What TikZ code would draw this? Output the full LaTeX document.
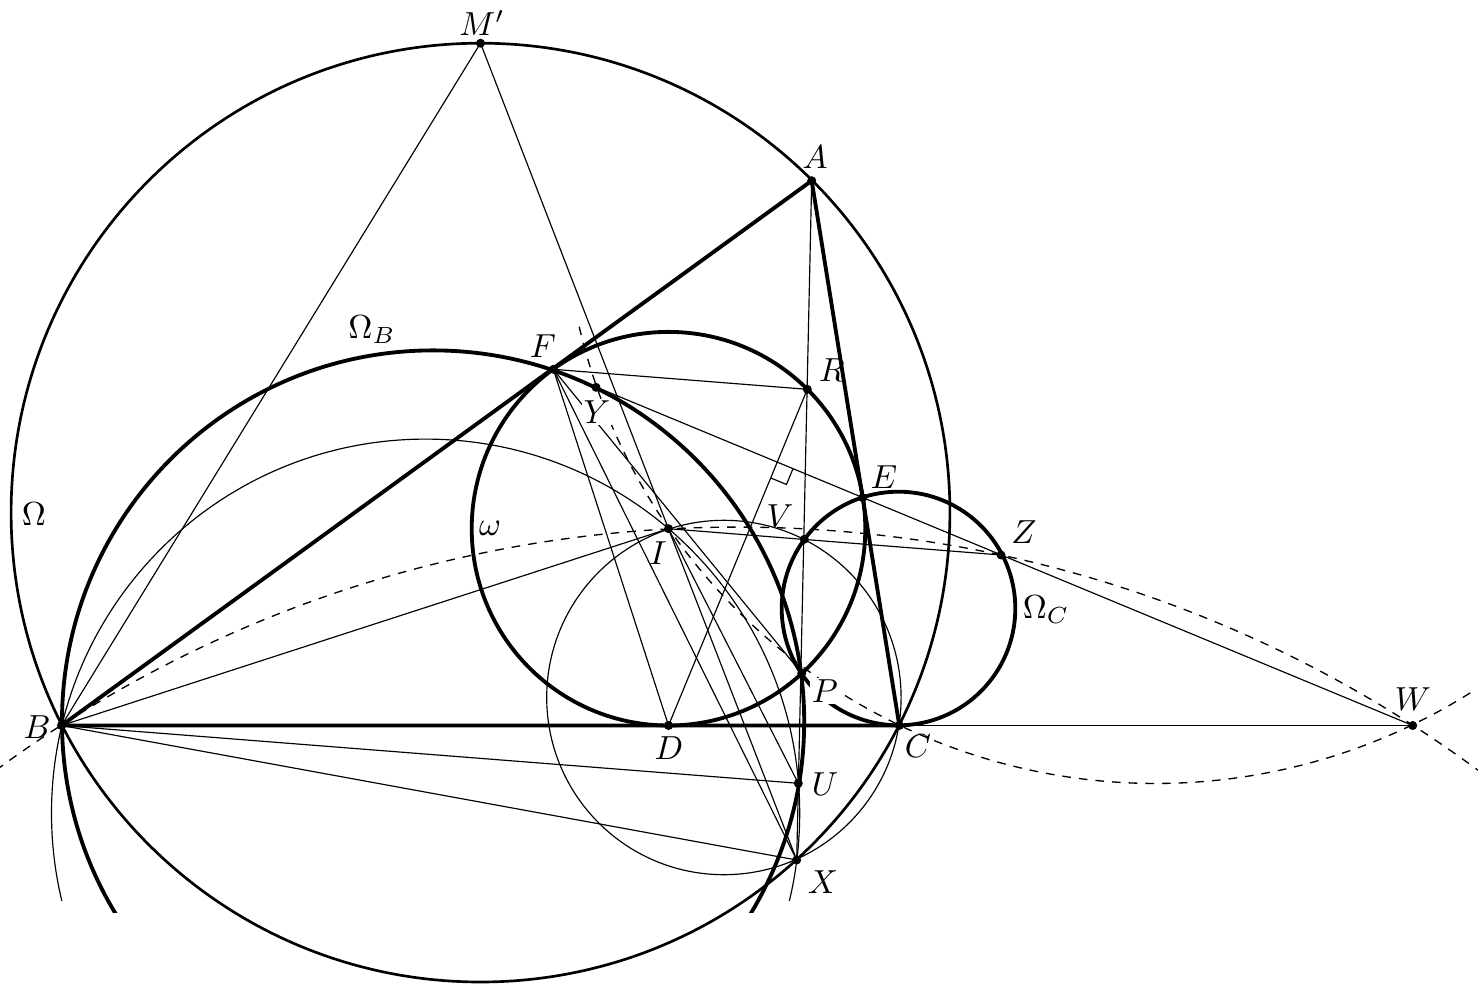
\documentclass[tikz,border=0pt]{standalone}
\usetikzlibrary{calc}
\begin{document}
\begin{tikzpicture}[x=0.3pt,y=-0.3pt,
  thinl/.style={line width=0.35pt},
  medl/.style={line width=0.8pt},
  thickl/.style={line width=1.15pt},
  dashl/.style={line width=0.4pt,dash pattern=on 2.6pt off 2.4pt},
  lbl/.style={inner sep=0.6pt},
  lblw/.style={fill=white,inner sep=0.6pt},
  dotp/.style={fill=black}]
\useasboundingbox (0,0) rectangle (1478,992);
\clip (0,0) rectangle (1478,992);
% points
\coordinate (A) at (811.7,180.7);
\coordinate (B) at (61.5,725.5);
\coordinate (C) at (899.3,725.5);
\coordinate (D) at (668.5,725.5);
\coordinate (E) at (862.7,497.7);
\coordinate (F) at (553.3,369.3);
\coordinate (I) at (668.5,528.7);
\coordinate (Mp) at (480.5,43.2);
\coordinate (P) at (801.7,673.3);
\coordinate (R) at (807.3,389.3);
\coordinate (U) at (798.3,783.3);
\coordinate (V) at (804.3,539.3);
\coordinate (W) at (1412.7,725.5);
\coordinate (X) at (796.7,860);
\coordinate (Y) at (596,387.3);
\coordinate (Z) at (1001,555);
% circle centres
\coordinate (O) at (480.5,512.6);
\coordinate (Ob) at (433.1,721.5);
\coordinate (Oc) at (898.5,608.5);
\coordinate (Obix) at (425.6,813.2);
\coordinate (Ocix) at (723.9,697.5);
\coordinate (Od1) at (737,1777.5);
\coordinate (Od2) at (1155.5,191.5);
% circles
\draw[medl] (O) circle[radius=469.4];
\draw[thickl] (I) circle[radius=196.8];
\begin{scope}
  \clip (0,0) rectangle (1478,912);
  \draw[thickl] (Ob) circle[radius=371.1];
\end{scope}
\draw[thickl] (Oc) circle[radius=116.8];
\begin{scope}
  \clip (0,0) rectangle (1478,900);
  \draw[thinl] (Obix) circle[radius=374.1];
\end{scope}
\draw[thinl] (Ocix) circle[radius=177.2];
\draw[dashl] (Od1) circle[radius=1250.4];
\draw[dashl] (Od2) ++(166.8:592) arc[start angle=166.8,end angle=57.8,radius=592];
% triangle
\draw[thickl,line join=round] (A) -- (B) -- (C) -- cycle;
% thin lines
\draw[thinl] (Mp) -- (B);
\draw[thinl] (Mp) -- (X);
\draw[thinl] (A) -- (X);
\draw[thinl] (F) -- (R);
\draw[thinl] (R) -- (D);
\draw[thinl] (D) -- (F);
\draw[thinl] (F) -- (W);
\draw[thinl] (C) -- (W);
\draw[thinl] (B) -- (I);
\draw[thinl] (B) -- (U);
\draw[thinl] (B) -- (X);
\draw[thinl] (I) -- (Z);
\draw[thinl] (I) -- (U);
\draw[thinl] (F) -- (X);
\draw[thinl] (F) -- (P);
% right angle mark
\coordinate (H) at (intersection of D--R and F--E);
\coordinate (h1) at ($(H)!5.1pt!(D)$);
\coordinate (h3) at ($(H)!5.1pt!(E)$);
\coordinate (h2) at ($(h1)+(h3)-(H)$);
\draw[thinl] (h1) -- (h2) -- (h3);
% dots
\foreach \p in {A,B,C,D,E,F,I,Mp,P,R,U,V,W,X,Y,Z}
  \fill[dotp] (\p) circle[radius=1.35pt];
% labels
\node[lbl] (lMp) at (482,23) {$M'$};
\node[lbl] (lA) at (815,157) {$A$};
\node[lbl] (lF) at (543,346) {$F$};
\node[lbl] (lR) at (832,370) {$R$};
\node[lblw] (lY) at (597,412) {$Y$};
\node[lbl] (lE) at (884,477) {$E$};
\node[lbl] (lV) at (780,516) {$V$};
\node[lbl] (lZ) at (1024,532) {$Z$};
\node[lbl] (lOc) at (1046,610) {$\Omega_C$};
\node[lbl] (lI) at (658,553) {$I$};
\node[lblw] (lP) at (825,691) {$P$};
\node[lbl] (lD) at (669,748) {$D$};
\node[lbl] (lC) at (918,746) {$C$};
\node[lbl] (lU) at (825,784) {$U$};
\node[lbl] (lX) at (823,882) {$X$};
\node[lbl] (lB) at (37,727) {$B$};
\node[lbl] (lW) at (1413,699) {$W$};
\node[lbl] (lOb) at (372,330) {$\Omega_B$};
\node[lbl] (lO) at (34,514) {$\Omega$};
\node[lbl] (lw) at (490,528) {$\omega$};
\end{tikzpicture}
\end{document}
